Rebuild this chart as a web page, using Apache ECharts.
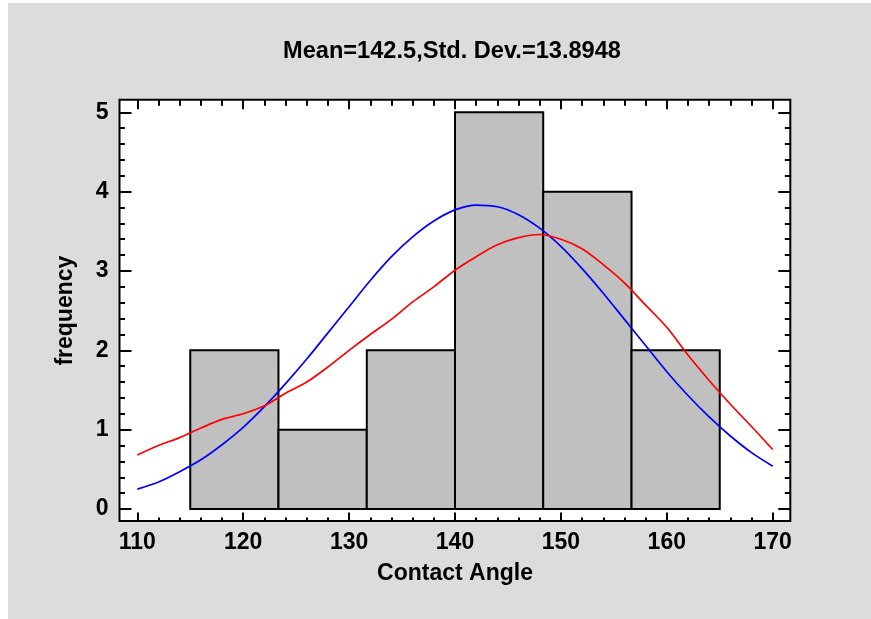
<!DOCTYPE html>
<html>
<head>
<meta charset="utf-8">
<script src="https://cdn.jsdelivr.net/npm/echarts@6/dist/echarts.min.js"></script>
<style>
  html, body { margin: 0; padding: 0; background: #ffffff; }
  #wrap { position: relative; width: 871px; height: 619px; background: #ffffff; overflow: hidden; }
  #panel { position: absolute; left: 8px; top: 3px; width: 863px; height: 616px; background: #dcdcdc; }
  #chart { position: absolute; left: 0; top: 0; width: 871px; height: 619px; }
</style>
</head>
<body>
<div id="wrap"><div id="panel"></div><div id="chart"></div></div>
<script>
// ---- data ----
const titleText = 'Mean=142.5,Std. Dev.=13.8948';
const xName = 'Contact Angle';
const yName = 'frequency';
const binEdges = [115, 123.33, 131.67, 140, 148.33, 156.67, 165];
const binCounts = [2, 1, 2, 5, 4, 2];
const curveX = [110, 112, 114, 116, 118, 120, 122, 124, 126, 128, 130, 132, 134, 136, 138, 140,
                142, 144, 146, 148, 150, 152, 154, 156, 158, 160, 162, 164, 166, 168, 170];
const blueCurve = [0.25, 0.34, 0.47, 0.62, 0.81, 1.03, 1.29, 1.58, 1.89, 2.22, 2.55, 2.88, 3.18, 3.43, 3.63, 3.77,
                   3.83, 3.81, 3.71, 3.54, 3.31, 3.03, 2.72, 2.39, 2.06, 1.73, 1.43, 1.16, 0.92, 0.71, 0.54];
const redCurve = [0.68, 0.80, 0.90, 1.02, 1.13, 1.20, 1.30, 1.46, 1.60, 1.79, 2.00, 2.20, 2.39, 2.61, 2.80, 3.01,
                  3.18, 3.33, 3.42, 3.46, 3.40, 3.28, 3.08, 2.85, 2.57, 2.29, 1.94, 1.62, 1.32, 1.04, 0.75];
const xMin = 110, xMax = 170, xStep = 10;
const yMin = 0, yMax = 5, yStep = 1;

// ---- build ----
const FONT = "'Liberation Sans', Arial, sans-serif";
const chart = echarts.init(document.getElementById('chart'), null, { renderer: 'canvas' });

const histData = binCounts.map((c, i) => [binEdges[i], binEdges[i + 1], c]);
const blueData = curveX.map((x, i) => [x, blueCurve[i]]);
const redData = curveX.map((x, i) => [x, redCurve[i]]);

// frame (plot box)
const frame = { left: 119.5, top: 99.7, right: 790.3, bottom: 521 };
// data area (110..170, 0..5)
const data = { left: 137.3, top: 112.3, right: 772.7, bottom: 509 };

function tickAxisX(pos, offset, major, minor, showLabel) {
  return {
    type: 'value', gridIndex: 1, position: pos, offset: offset,
    min: xMin, max: xMax, interval: xStep,
    axisLine: { show: false, onZero: false },
    splitLine: { show: false },
    axisTick: { show: true, inside: true, length: major, lineStyle: { color: '#000', width: 2 } },
    minorTick: { show: true, splitNumber: 5, length: minor, lineStyle: { color: '#000', width: 2 } },
    axisLabel: { show: showLabel, color: '#000', fontFamily: FONT, fontWeight: 'bold', fontSize: 23, margin: 10 },
    name: showLabel ? xName : '', nameLocation: 'middle', nameGap: 41,
    nameTextStyle: { color: '#000', fontFamily: FONT, fontWeight: 'bold', fontSize: 23 }
  };
}
function tickAxisY(pos, offset, major, minor, showLabel) {
  return {
    type: 'value', gridIndex: 1, position: pos, offset: offset,
    min: yMin, max: yMax, interval: yStep,
    axisLine: { show: false, onZero: false },
    splitLine: { show: false },
    axisTick: { show: true, inside: true, length: major, lineStyle: { color: '#000', width: 2 } },
    minorTick: { show: true, splitNumber: 5, length: minor, lineStyle: { color: '#000', width: 2 } },
    axisLabel: { show: showLabel, color: '#000', fontFamily: FONT, fontWeight: 'bold', fontSize: 23, margin: 11 },
    name: showLabel ? yName : '', nameLocation: 'middle', nameGap: 42, nameRotate: 90,
    nameTextStyle: { color: '#000', fontFamily: FONT, fontWeight: 'bold', fontSize: 23 }
  };
}

const option = {
  backgroundColor: 'transparent',
  animation: false,
  title: {
    text: titleText, left: 283, top: 39, padding: 0,
    textStyle: { color: '#000', fontFamily: FONT, fontWeight: 'bold', fontSize: 23.6 }
  },
  grid: [
    { left: frame.left, top: frame.top, width: frame.right - frame.left, height: frame.bottom - frame.top,
      show: true, backgroundColor: '#ffffff', borderColor: '#000', borderWidth: 2, z: 0 },
    { left: data.left, top: data.top, width: data.right - data.left, height: data.bottom - data.top }
  ],
  xAxis: [
    { type: 'value', gridIndex: 0, show: false, min: 108.27, max: 171.73 },
    tickAxisX('bottom', frame.bottom - data.bottom, 8.5, 3.5, true),
    tickAxisX('top', data.top - frame.top, 9.5, 6, false)
  ],
  yAxis: [
    { type: 'value', gridIndex: 0, show: false, min: -0.15, max: 5.165 },
    tickAxisY('left', data.left - frame.left, 12, 5.5, true),
    tickAxisY('right', frame.right - data.right, 12, 5.5, false)
  ],
  series: [
    {
      type: 'custom', xAxisIndex: 1, yAxisIndex: 1, data: histData, z: 2,
      renderItem: function (params, api) {
        const p0 = api.coord([api.value(0), api.value(2)]);
        const p1 = api.coord([api.value(1), 0]);
        return {
          type: 'rect',
          shape: { x: p0[0], y: p0[1], width: p1[0] - p0[0], height: p1[1] - p0[1] },
          style: { fill: '#c0c0c0', stroke: '#000000', lineWidth: 2 }
        };
      }
    },
    {
      type: 'line', xAxisIndex: 1, yAxisIndex: 1, data: blueData, z: 3,
      showSymbol: false, smooth: 0.3, lineStyle: { color: '#0000ff', width: 1.7 }
    },
    {
      type: 'line', xAxisIndex: 1, yAxisIndex: 1, data: redData, z: 4,
      showSymbol: false, smooth: 0.3, lineStyle: { color: '#ff0000', width: 1.7 }
    }
  ]
};
chart.setOption(option);
</script>
</body>
</html>
